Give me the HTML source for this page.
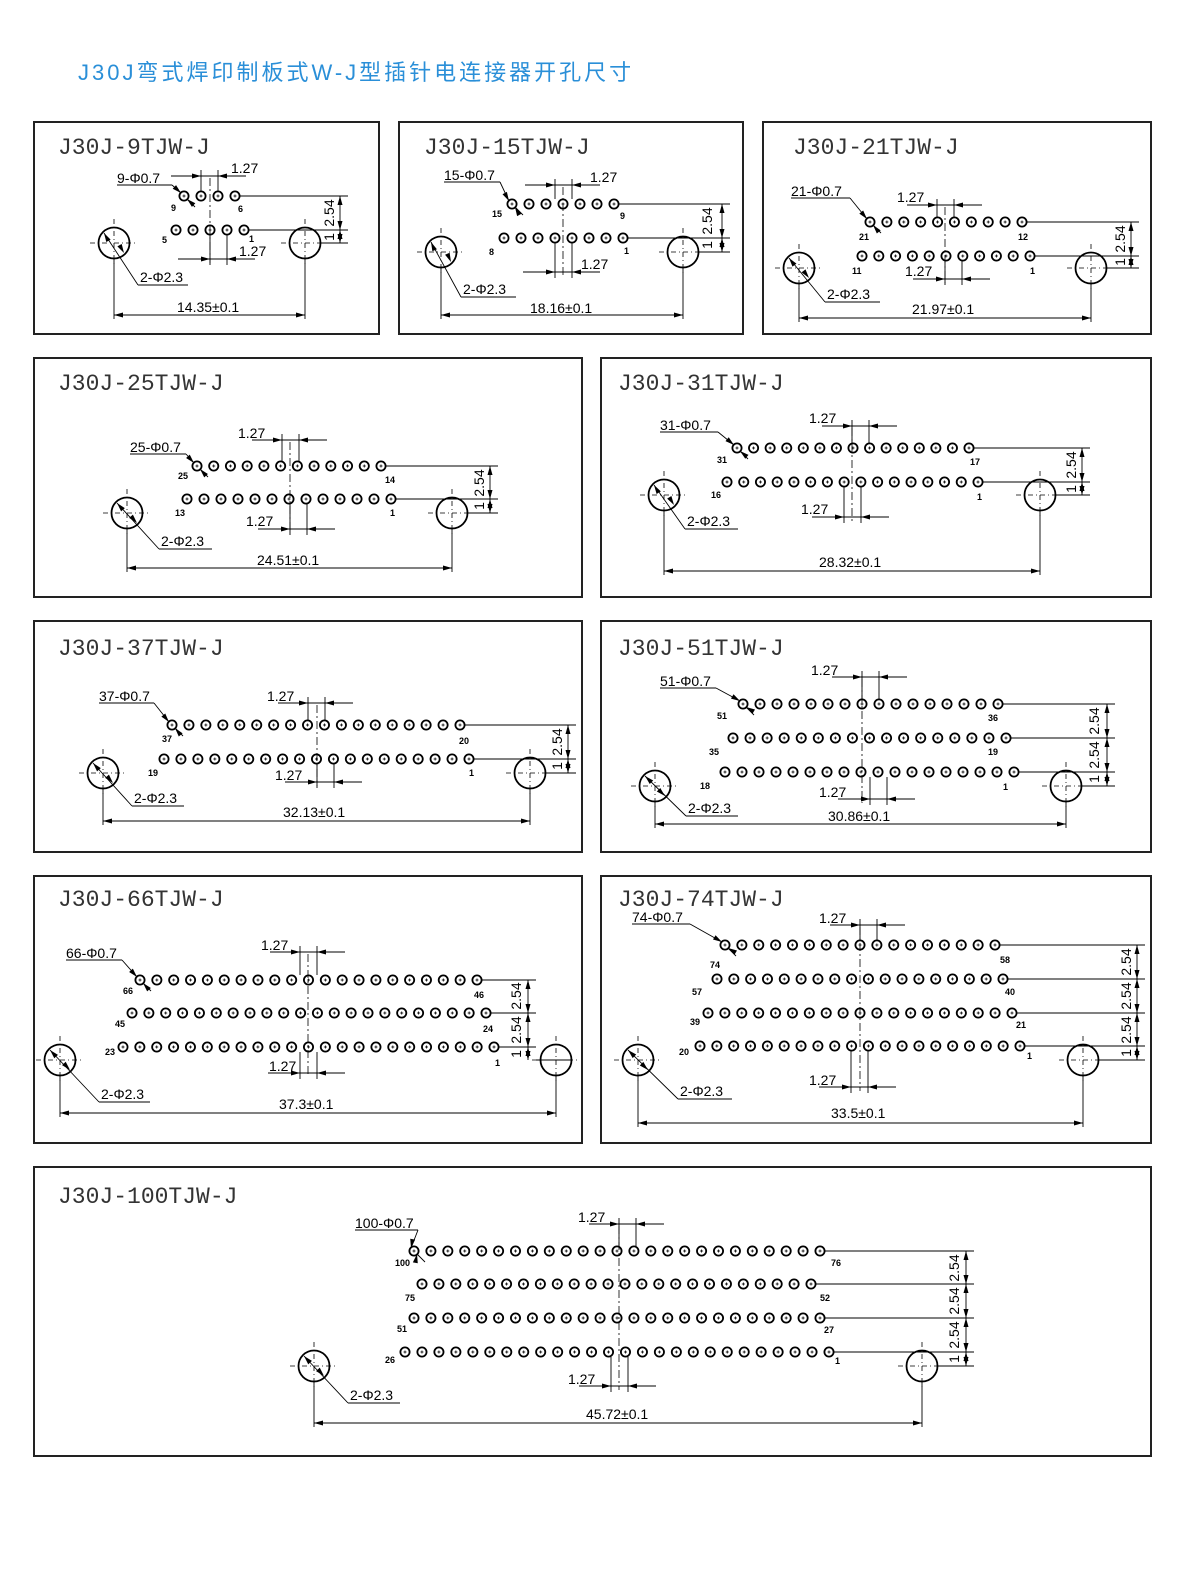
<!DOCTYPE html>
<html><head><meta charset="utf-8"><style>
html,body{margin:0;padding:0;background:#fff;overflow:hidden;width:1200px;height:1586px;}
svg{display:block;}
.t{font-family:"Liberation Mono",monospace;font-size:23px;fill:#333;}
.d{font-family:"Liberation Sans",sans-serif;font-size:14px;fill:#000;}
.n{font-family:"Liberation Sans",sans-serif;font-size:9px;font-weight:bold;fill:#000;}
.h{font-family:"Liberation Sans","Noto Sans CJK SC",sans-serif;font-size:22px;fill:#2a8fd8;letter-spacing:3px;}
</style></head><body>
<svg id="s" width="1200" height="1586" viewBox="0 0 1200 1586" xmlns="http://www.w3.org/2000/svg">
<text class="h" x="78" y="80">J30J弯式焊印制板式W-J型插针电连接器开孔尺寸</text>
<g fill="none" stroke="#222" stroke-width="2">
<rect x="34" y="122" width="345" height="212"/>
<rect x="399" y="122" width="344" height="212"/>
<rect x="763" y="122" width="388" height="212"/>
<rect x="34" y="358" width="548" height="239"/>
<rect x="601" y="358" width="550" height="239"/>
<rect x="34" y="621" width="548" height="231"/>
<rect x="601" y="621" width="550" height="231"/>
<rect x="34" y="876" width="548" height="267"/>
<rect x="601" y="876" width="550" height="267"/>
<rect x="34" y="1167" width="1117" height="289"/>
</g>
<text class="t" x="58" y="154">J30J-9TJW-J</text>
<text class="t" x="424" y="154">J30J-15TJW-J</text>
<text class="t" x="793" y="154">J30J-21TJW-J</text>
<text class="t" x="58" y="390">J30J-25TJW-J</text>
<text class="t" x="618" y="390">J30J-31TJW-J</text>
<text class="t" x="58" y="655">J30J-37TJW-J</text>
<text class="t" x="618" y="655">J30J-51TJW-J</text>
<text class="t" x="58" y="906">J30J-66TJW-J</text>
<text class="t" x="618" y="906">J30J-74TJW-J</text>
<text class="t" x="58" y="1203">J30J-100TJW-J</text>

<!-- P1 -->
<text class="d" x="117" y="183">9-Φ0.7</text><text class="d" x="231" y="173">1.27</text><text class="d" x="239" y="256">1.27</text>
<text class="d" x="140" y="282">2-Φ2.3</text><text class="d" x="177" y="312">14.35±0.1</text>
<text class="n" x="171" y="211">9</text><text class="n" x="238" y="212">6</text><text class="n" x="162" y="243">5</text><text class="n" x="249" y="242">1</text>
<text class="d" transform="translate(334,213) rotate(-90)" text-anchor="middle">2.54</text>
<text class="d" transform="translate(334,237) rotate(-90)" text-anchor="middle">1</text>
<!-- P2 -->
<text class="d" x="444" y="180">15-Φ0.7</text><text class="d" x="590" y="182">1.27</text><text class="d" x="581" y="269">1.27</text>
<text class="d" x="463" y="294">2-Φ2.3</text><text class="d" x="530" y="313">18.16±0.1</text>
<text class="n" x="492" y="217">15</text><text class="n" x="620" y="219">9</text><text class="n" x="489" y="255">8</text><text class="n" x="624" y="254">1</text>
<text class="d" transform="translate(712,221) rotate(-90)" text-anchor="middle">2.54</text>
<text class="d" transform="translate(712,245) rotate(-90)" text-anchor="middle">1</text>
<!-- P3 -->
<text class="d" x="791" y="196">21-Φ0.7</text><text class="d" x="897" y="202">1.27</text><text class="d" x="905" y="276">1.27</text>
<text class="d" x="827" y="299">2-Φ2.3</text><text class="d" x="912" y="314">21.97±0.1</text>
<text class="n" x="859" y="240">21</text><text class="n" x="1018" y="240">12</text><text class="n" x="852" y="274">11</text><text class="n" x="1030" y="274">1</text>
<text class="d" transform="translate(1125,239) rotate(-90)" text-anchor="middle">2.54</text>
<text class="d" transform="translate(1125,262) rotate(-90)" text-anchor="middle">1</text>
<!-- P4 -->
<text class="d" x="130" y="452">25-Φ0.7</text><text class="d" x="238" y="438">1.27</text><text class="d" x="246" y="526">1.27</text>
<text class="d" x="161" y="546">2-Φ2.3</text><text class="d" x="257" y="565">24.51±0.1</text>
<text class="n" x="178" y="479">25</text><text class="n" x="385" y="483">14</text><text class="n" x="175" y="516">13</text><text class="n" x="390" y="516">1</text>
<text class="d" transform="translate(484,483) rotate(-90)" text-anchor="middle">2.54</text>
<text class="d" transform="translate(484,506) rotate(-90)" text-anchor="middle">1</text>
<!-- P5 -->
<text class="d" x="660" y="430">31-Φ0.7</text><text class="d" x="809" y="423">1.27</text><text class="d" x="801" y="514">1.27</text>
<text class="d" x="687" y="526">2-Φ2.3</text><text class="d" x="819" y="567">28.32±0.1</text>
<text class="n" x="717" y="463">31</text><text class="n" x="970" y="465">17</text><text class="n" x="711" y="498">16</text><text class="n" x="977" y="500">1</text>
<text class="d" transform="translate(1076,465) rotate(-90)" text-anchor="middle">2.54</text>
<text class="d" transform="translate(1076,489) rotate(-90)" text-anchor="middle">1</text>
<!-- P6 -->
<text class="d" x="99" y="701">37-Φ0.7</text><text class="d" x="267" y="701">1.27</text><text class="d" x="275" y="780">1.27</text>
<text class="d" x="134" y="803">2-Φ2.3</text><text class="d" x="283" y="817">32.13±0.1</text>
<text class="n" x="162" y="742">37</text><text class="n" x="459" y="744">20</text><text class="n" x="148" y="776">19</text><text class="n" x="469" y="776">1</text>
<text class="d" transform="translate(562,742) rotate(-90)" text-anchor="middle">2.54</text>
<text class="d" transform="translate(562,766) rotate(-90)" text-anchor="middle">1</text>
<!-- P7 -->
<text class="d" x="660" y="686">51-Φ0.7</text><text class="d" x="811" y="675">1.27</text><text class="d" x="819" y="797">1.27</text>
<text class="d" x="688" y="813">2-Φ2.3</text><text class="d" x="828" y="821">30.86±0.1</text>
<text class="n" x="717" y="719">51</text><text class="n" x="988" y="721">36</text><text class="n" x="709" y="755">35</text><text class="n" x="988" y="755">19</text><text class="n" x="700" y="789">18</text><text class="n" x="1003" y="790">1</text>
<text class="d" transform="translate(1099,721) rotate(-90)" text-anchor="middle">2.54</text>
<text class="d" transform="translate(1099,755) rotate(-90)" text-anchor="middle">2.54</text>
<text class="d" transform="translate(1099,779) rotate(-90)" text-anchor="middle">1</text>
<!-- P8 -->
<text class="d" x="66" y="958">66-Φ0.7</text><text class="d" x="261" y="950">1.27</text><text class="d" x="269" y="1071">1.27</text>
<text class="d" x="101" y="1099">2-Φ2.3</text><text class="d" x="279" y="1109">37.3±0.1</text>
<text class="n" x="123" y="994">66</text><text class="n" x="474" y="998">46</text><text class="n" x="115" y="1027">45</text><text class="n" x="483" y="1032">24</text><text class="n" x="105" y="1055">23</text><text class="n" x="495" y="1066">1</text>
<text class="d" transform="translate(521,996) rotate(-90)" text-anchor="middle">2.54</text>
<text class="d" transform="translate(521,1030) rotate(-90)" text-anchor="middle">2.54</text>
<text class="d" transform="translate(521,1054) rotate(-90)" text-anchor="middle">1</text>
<!-- P9 -->
<text class="d" x="632" y="922">74-Φ0.7</text><text class="d" x="819" y="923">1.27</text><text class="d" x="809" y="1085">1.27</text>
<text class="d" x="680" y="1096">2-Φ2.3</text><text class="d" x="831" y="1118">33.5±0.1</text>
<text class="n" x="710" y="968">74</text><text class="n" x="1000" y="963">58</text><text class="n" x="692" y="995">57</text><text class="n" x="1005" y="995">40</text><text class="n" x="690" y="1025">39</text><text class="n" x="1016" y="1028">21</text><text class="n" x="679" y="1055">20</text><text class="n" x="1027" y="1059">1</text>
<text class="d" transform="translate(1131,962) rotate(-90)" text-anchor="middle">2.54</text>
<text class="d" transform="translate(1131,996) rotate(-90)" text-anchor="middle">2.54</text>
<text class="d" transform="translate(1131,1030) rotate(-90)" text-anchor="middle">2.54</text>
<text class="d" transform="translate(1131,1053) rotate(-90)" text-anchor="middle">1</text>
<!-- P10 -->
<text class="d" x="355" y="1228">100-Φ0.7</text><text class="d" x="578" y="1222">1.27</text><text class="d" x="568" y="1384">1.27</text>
<text class="d" x="350" y="1400">2-Φ2.3</text><text class="d" x="586" y="1419">45.72±0.1</text>
<text class="n" x="395" y="1266">100</text><text class="n" x="831" y="1266">76</text><text class="n" x="405" y="1301">75</text><text class="n" x="820" y="1301">52</text><text class="n" x="397" y="1332">51</text><text class="n" x="824" y="1333">27</text><text class="n" x="385" y="1363">26</text><text class="n" x="835" y="1364">1</text>
<text class="d" transform="translate(959,1268) rotate(-90)" text-anchor="middle">2.54</text>
<text class="d" transform="translate(959,1301) rotate(-90)" text-anchor="middle">2.54</text>
<text class="d" transform="translate(959,1335) rotate(-90)" text-anchor="middle">2.54</text>
<text class="d" transform="translate(959,1359) rotate(-90)" text-anchor="middle">1</text>
<g id="g"></g>
</svg>
<script>
var NS="http://www.w3.org/2000/svg",G=document.getElementById("g");
function el(t,a){var e=document.createElementNS(NS,t);for(var k in a)e.setAttribute(k,a[k]);G.appendChild(e);return e;}
function ln(x1,y1,x2,y2,w,da){var a={x1:x1,y1:y1,x2:x2,y2:y2,stroke:"#000","stroke-width":w||1};if(da)a["stroke-dasharray"]=da;el("line",a);}
function ar(x,y,ang){var c=Math.cos(ang),s=Math.sin(ang),L=9,W=2.5;
 el("polygon",{points:x+","+y+" "+(x-L*c-W*s)+","+(y-L*s+W*c)+" "+(x-L*c+W*s)+","+(y-L*s-W*c),fill:"#000"});}
function pin(x,y){el("circle",{cx:x,cy:y,r:4.6,fill:"#fff",stroke:"#000","stroke-width":1.8});ln(x-1.5,y,x+1.5,y,0.8);ln(x,y-1.5,x,y+1.5,0.8);}
function hole(x,y){el("circle",{cx:x,cy:y,r:15.5,fill:"none",stroke:"#000","stroke-width":1.8});ln(x-24,y,x+24,y,0.8,"5,3,1,3");ln(x,y-24,x,y+24,0.8,"5,3,1,3");}
function P(c){
 var rows=c.rows,h=c.holes,hy=h[0][1];
 rows.forEach(function(r){var d=(r[2]-r[1])/(r[3]-1);for(var i=0;i<r[3];i++)pin(r[1]+i*d,r[0]);
   ln(r[2]+5,r[0],c.rx+8,r[0],0.9);});
 ln(h[1][0]+16,hy,c.rx+8,hy,0.9);
 h.forEach(function(p){hole(p[0],p[1]);ln(p[0],p[1]+16,p[0],c.dimY+4,0.9);});
 ln(h[0][0],c.dimY,h[1][0],c.dimY,0.9);ar(h[0][0],c.dimY,Math.PI);ar(h[1][0],c.dimY,0);
 ln(c.rx,rows[0][0],c.rx,hy,0.9);
 var ys=rows.map(function(r){return r[0];}).concat([hy]);
 for(var i=0;i<ys.length-1;i++){ar(c.rx,ys[i],-Math.PI/2);ar(c.rx,ys[i+1],Math.PI/2);}
 var cx=c.cx;ln(cx,c.t[2]+2,cx,c.b[2]+4,0.8,"8,3,2,3");
 var t=c.t;ln(t[0],t[2]-6,t[0],rows[0][0]-5,0.9);ln(t[1],t[2]-6,t[1],rows[0][0]-5,0.9);
 ln(t[0]-30,t[2],t[1]+28,t[2],0.9);ar(t[0],t[2],0);ar(t[1],t[2],Math.PI);
 var b=c.b,ly=rows[rows.length-1][0];ln(b[0],ly+5,b[0],b[2]+6,0.9);ln(b[1],ly+5,b[1],b[2]+6,0.9);
 ln(b[0]-32,b[2],b[1]+28,b[2],0.9);ar(b[0],b[2],0);ar(b[1],b[2],Math.PI);
 var L=c.pl,fx=rows[0][1],fy=rows[0][0];ln(L[0],L[2],L[1],L[2],0.9);ln(L[1],L[2],fx-3,fy-3,0.9);ar(fx-3,fy-3,Math.atan2(fy-L[2],fx-L[1]));
 ln(fx+3,fy+3,fx+11,fy+11,0.9);ar(fx+3,fy+3,Math.atan2(-(fy-L[2]),-(fx-L[1])));
 var H=c.hl,hx=h[0][0];ln(hx-10,hy-10,H[0],H[2],0.9);ln(H[0],H[2],H[1],H[2],0.9);ar(hx-10,hy-10,Math.atan2(-(H[2]-hy),-(H[0]-hx)));ar(hx+10,hy+10,Math.atan2(H[2]-hy,H[0]-hx));
}
P({rows:[[196,184,235,4],[230,176,244,5]],holes:[[114,243],[305,243]],dimY:315,rx:340,cx:210,t:[201,218,176],b:[210,227,259],pl:[117,172,185],hl:[138,188,285]});
P({rows:[[204,512,614,7],[238,504,623,8]],holes:[[441,252],[683,252]],dimY:315,rx:722,cx:563,t:[555,572,185],b:[555,572,272],pl:[444,500,182],hl:[461,516,297]});
P({rows:[[222,870,1022,10],[256,862,1030,11]],holes:[[799,268],[1091,268]],dimY:318,rx:1131,cx:945,t:[937,954,205],b:[945,962,279],pl:[791,850,198],hl:[825,880,302]});
P({rows:[[466,197,381,12],[499,187,391,13]],holes:[[127,513],[452,513]],dimY:568,rx:490,cx:290,t:[282,299,440],b:[290,307,529],pl:[130,186,454],hl:[159,212,549]});
P({rows:[[448,737,969,15],[482,727,978,16]],holes:[[664,495],[1040,495]],dimY:571,rx:1082,cx:852,t:[852,869,426],b:[844,861,517],pl:[660,718,432],hl:[685,738,529]});
P({rows:[[725,172,460,18],[759,164,469,19]],holes:[[103,773],[530,773]],dimY:821,rx:568,cx:317,t:[308,325,703],b:[317,334,782],pl:[99,154,703],hl:[132,184,806]});
P({rows:[[704,743,998,16],[738,733,1006,17],[772,725,1014,18]],holes:[[655,786],[1066,786]],dimY:824,rx:1107,cx:862,t:[862,879,677],b:[870,887,799],pl:[660,716,688],hl:[686,738,816]});
P({rows:[[980,140,477,21],[1013,132,486,22],[1047,123,494,23]],holes:[[60,1060],[556,1060]],dimY:1113,rx:528,cx:308,t:[300,317,952],b:[300,317,1073],pl:[66,122,960],hl:[99,150,1102]});
P({rows:[[945,725,995,17],[979,717,1003,18],[1013,708,1012,19],[1046,700,1020,20]],holes:[[638,1060],[1083,1060]],dimY:1123,rx:1137,cx:860,t:[860,877,925],b:[851,868,1087],pl:[632,690,924],hl:[678,732,1099]});
P({rows:[[1251,414,820,25],[1284,422,811,24],[1318,414,820,25],[1352,405,829,26]],holes:[[314,1366],[922,1366]],dimY:1423,rx:966,cx:619,t:[619,636,1224],b:[611,628,1386],pl:[355,418,1230],hl:[348,400,1403]});
</script>
</body></html>
